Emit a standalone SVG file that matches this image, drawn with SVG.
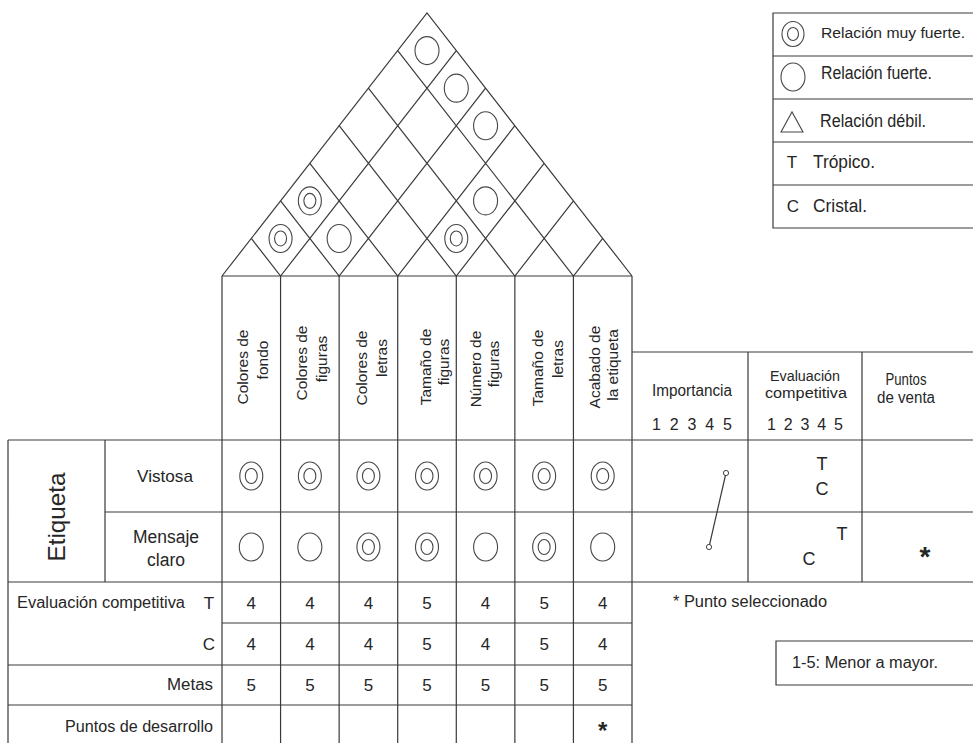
<svg xmlns="http://www.w3.org/2000/svg" width="973" height="743" viewBox="0 0 973 743">
  <style>
    .ln { stroke: #3a3a3a; stroke-width: 1.2; fill: none; }
    .sym { fill: none; stroke: #474747; stroke-width: 1.1; }
    text { font-family: "Liberation Sans", Arial, sans-serif; fill: #262626; }
    .hd { font-size: 15.5px; text-anchor: middle; }
    .lb { font-size: 17px; text-anchor: middle; }
    .num { font-size: 17px; text-anchor: middle; }
    .sm { font-size: 16px; }
    .lg { font-size: 18px; }
    .star { font-weight: bold; text-anchor: middle; }
  </style>
  <defs>
    <!-- relationship symbols -->
    <g id="strong" class="sym"><ellipse cx="0" cy="0" rx="12" ry="14"/></g>
    <g id="vstrong" class="sym"><ellipse cx="0" cy="0" rx="11.5" ry="14"/><ellipse cx="0" cy="0" rx="6" ry="7.5"/></g>
    <g id="vstrong-s" class="sym"><ellipse cx="0" cy="0" rx="11" ry="12.5"/><ellipse cx="0" cy="0" rx="5.5" ry="6.5"/></g>
    <circle id="dot" r="2.6" fill="#fff" stroke="#444" stroke-width="1"/>
  </defs>

  <rect x="0" y="0" width="973" height="743" fill="#fff"/>

  <!-- correlation roof -->
  <g id="roof">
    <path class="ln" d="M222,276 L427,13 L632,276
      M251.29,238.43 L280.57,276 L456.29,50.57
      M280.57,200.86 L339.14,276 L485.57,88.14
      M309.86,163.29 L397.71,276 L514.86,125.72
      M339.14,125.72 L456.29,276 L544.14,163.29
      M368.43,88.15 L514.86,276 L573.43,200.86
      M397.71,50.57 L573.43,276 L602.71,238.43"/>
    <use href="#vstrong" x="280.57" y="238.43"/>
    <use href="#vstrong" x="309.86" y="200.86"/>
    <use href="#strong" x="339.14" y="238.43"/>
    <use href="#vstrong" x="456.29" y="238.43"/>
    <use href="#strong" x="485.57" y="200.86"/>
    <use href="#strong" x="485.57" y="125.72"/>
    <use href="#strong" x="456.29" y="88.15"/>
    <use href="#strong" x="427" y="50.58"/>
  </g>

  <!-- table rules -->
  <g id="grid" class="ln">
    <path d="M222,276 H632
      M8,440 H973 M105,512 H973 M8,582 H973
      M222,623 H632 M8,665 H632 M8,705 H632
      M632,352 H973
      M8,440 V743 M105,440 V582 M222,276 V743
      M280.57,276 V743 M339.14,276 V743 M397.71,276 V743
      M456.29,276 V743 M514.86,276 V743 M573.43,276 V743 M632,276 V743
      M748,352 V582 M862,352 V582"/>
  </g>

  <!-- technical requirement columns -->
  <g id="col-1">
    <text class="hd" transform="translate(248,367) rotate(-90)">Colores de</text>
    <text class="hd" transform="translate(268,360) rotate(-90)">fondo</text>
    <use href="#vstrong" x="251.29" y="476"/>
    <use href="#strong" x="251.29" y="547"/>
    <text class="num" x="251.29" y="609">4</text>
    <text class="num" x="251.29" y="650">4</text>
    <text class="num" x="251.29" y="691">5</text>
  </g>
  <g id="col-2">
    <text class="hd" transform="translate(307,363) rotate(-90)">Colores de</text>
    <text class="hd" transform="translate(327,359) rotate(-90)">figuras</text>
    <use href="#vstrong" x="309.86" y="476"/>
    <use href="#strong" x="309.86" y="547"/>
    <text class="num" x="309.86" y="609">4</text>
    <text class="num" x="309.86" y="650">4</text>
    <text class="num" x="309.86" y="691">5</text>
  </g>
  <g id="col-3">
    <text class="hd" transform="translate(367,368) rotate(-90)">Colores de</text>
    <text class="hd" transform="translate(387,358) rotate(-90)">letras</text>
    <use href="#vstrong" x="368.43" y="476"/>
    <use href="#vstrong" x="368.43" y="547"/>
    <text class="num" x="368.43" y="609">4</text>
    <text class="num" x="368.43" y="650">4</text>
    <text class="num" x="368.43" y="691">5</text>
  </g>
  <g id="col-4">
    <text class="hd" transform="translate(431,367) rotate(-90)">Tamaño de</text>
    <text class="hd" transform="translate(449,362) rotate(-90)">figuras</text>
    <use href="#vstrong" x="427" y="476"/>
    <use href="#vstrong" x="427" y="547"/>
    <text class="num" x="427" y="609">5</text>
    <text class="num" x="427" y="650">5</text>
    <text class="num" x="427" y="691">5</text>
  </g>
  <g id="col-5">
    <text class="hd" transform="translate(481,369) rotate(-90)">Número de</text>
    <text class="hd" transform="translate(499,364) rotate(-90)">figuras</text>
    <use href="#vstrong" x="485.57" y="476"/>
    <use href="#strong" x="485.57" y="547"/>
    <text class="num" x="485.57" y="609">4</text>
    <text class="num" x="485.57" y="650">4</text>
    <text class="num" x="485.57" y="691">5</text>
  </g>
  <g id="col-6">
    <text class="hd" transform="translate(543,368) rotate(-90)">Tamaño de</text>
    <text class="hd" transform="translate(563,359) rotate(-90)">letras</text>
    <use href="#vstrong" x="544.14" y="476"/>
    <use href="#vstrong" x="544.14" y="547"/>
    <text class="num" x="544.14" y="609">5</text>
    <text class="num" x="544.14" y="650">5</text>
    <text class="num" x="544.14" y="691">5</text>
  </g>
  <g id="col-7">
    <text class="hd" transform="translate(600,367) rotate(-90)">Acabado de</text>
    <text class="hd" transform="translate(618,365) rotate(-90)">la etiqueta</text>
    <use href="#vstrong" x="602.71" y="476"/>
    <use href="#strong" x="602.71" y="547"/>
    <text class="num" x="602.71" y="609">4</text>
    <text class="num" x="602.71" y="650">4</text>
    <text class="num" x="602.71" y="691">5</text>
    <text class="star" x="602.71" y="739" font-size="24">*</text>
  </g>

  <!-- customer requirement rows -->
  <g id="group-etiqueta">
    <text transform="translate(65,517) rotate(-90)" font-size="24" text-anchor="middle" textLength="89" lengthAdjust="spacingAndGlyphs">Etiqueta</text>
  </g>
  <g id="row-vistosa">
    <text class="lb" x="165" y="482" textLength="56" lengthAdjust="spacingAndGlyphs">Vistosa</text>
  </g>
  <g id="row-mensaje">
    <text class="lb" x="166" y="543" style="font-size:18px" textLength="66" lengthAdjust="spacingAndGlyphs">Mensaje</text>
    <text class="lb" x="166" y="566" style="font-size:18px" textLength="38" lengthAdjust="spacingAndGlyphs">claro</text>
  </g>
  <g id="row-evaluacion">
    <text class="sm" x="17" y="608" textLength="168" lengthAdjust="spacingAndGlyphs">Evaluación competitiva</text>
    <text class="lb" x="209" y="609">T</text>
    <text class="lb" x="209" y="650">C</text>
  </g>
  <g id="row-metas">
    <text class="sm" x="213" y="690" text-anchor="end" textLength="46" lengthAdjust="spacingAndGlyphs">Metas</text>
  </g>
  <g id="row-desarrollo">
    <text class="sm" x="213" y="732" text-anchor="end" textLength="148" lengthAdjust="spacingAndGlyphs">Puntos de desarrollo</text>
  </g>

  <!-- customer assessment block -->
  <g id="importancia">
    <text class="hd" x="692" y="396" style="font-size:16px" textLength="80" lengthAdjust="spacingAndGlyphs">Importancia</text>
    <text class="sm" x="692" y="430" text-anchor="middle" textLength="80">1 2 3 4 5</text>
  </g>
  <g id="evaluacion-competitiva">
    <text class="hd" x="805" y="381" textLength="70" lengthAdjust="spacingAndGlyphs">Evaluación</text>
    <text class="hd" x="806" y="398" textLength="82" lengthAdjust="spacingAndGlyphs">competitiva</text>
    <text class="sm" x="805" y="430" text-anchor="middle" textLength="76">1 2 3 4 5</text>
    <text class="lb" x="822" y="470" style="font-size:18px">T</text>
    <text class="lb" x="822" y="495" style="font-size:18px">C</text>
    <text class="lb" x="842" y="540" style="font-size:18px">T</text>
    <text class="lb" x="809" y="565" style="font-size:18px">C</text>
  </g>
  <g id="puntos-venta">
    <text class="hd" x="906" y="385" style="font-size:16px" textLength="41" lengthAdjust="spacingAndGlyphs">Puntos</text>
    <text class="hd" x="906" y="403" style="font-size:16px" textLength="58" lengthAdjust="spacingAndGlyphs">de venta</text>
    <text class="star" x="925" y="566" font-size="28">*</text>
  </g>

  <!-- importance profile -->
  <g id="connectors">
    <path class="ln" d="M726,473 L709,547" stroke-width="1.1"/>
    <use href="#dot" x="726" y="473"/>
    <use href="#dot" x="709" y="547"/>
  </g>

  <!-- notes -->
  <g id="nota-seleccion">
    <text class="sm" x="673" y="607" textLength="154" lengthAdjust="spacingAndGlyphs">* Punto seleccionado</text>
  </g>
  <g id="nota-escala">
    <path class="ln" d="M973,641 H776 V685 H973"/>
    <text class="sm" x="792" y="668" textLength="146" lengthAdjust="spacingAndGlyphs">1-5: Menor a mayor.</text>
  </g>

  <!-- legend -->
  <g id="legend">
    <path class="ln" d="M973,13 H773 V228 H973 M773,56 H973 M773,99 H973 M773,142 H973 M773,185 H973"/>
    <use href="#vstrong-s" x="793" y="34"/>
    <use href="#strong" x="793" y="77"/>
    <path class="sym" d="M781,132 L803,132 L792,112 Z"/>
    <text class="lb" x="792" y="168">T</text>
    <text class="lb" x="793" y="212">C</text>
    <text x="821" y="38" style="font-size:15.5px" textLength="144" lengthAdjust="spacingAndGlyphs">Relación muy fuerte.</text>
    <text class="lg" x="821" y="79" textLength="111" lengthAdjust="spacingAndGlyphs">Relación fuerte.</text>
    <text class="lg" x="820" y="127" textLength="106" lengthAdjust="spacingAndGlyphs">Relación débil.</text>
    <text class="lg" x="813" y="168" textLength="62" lengthAdjust="spacingAndGlyphs">Trópico.</text>
    <text class="lg" x="813" y="212" textLength="54" lengthAdjust="spacingAndGlyphs">Cristal.</text>
  </g>
</svg>
